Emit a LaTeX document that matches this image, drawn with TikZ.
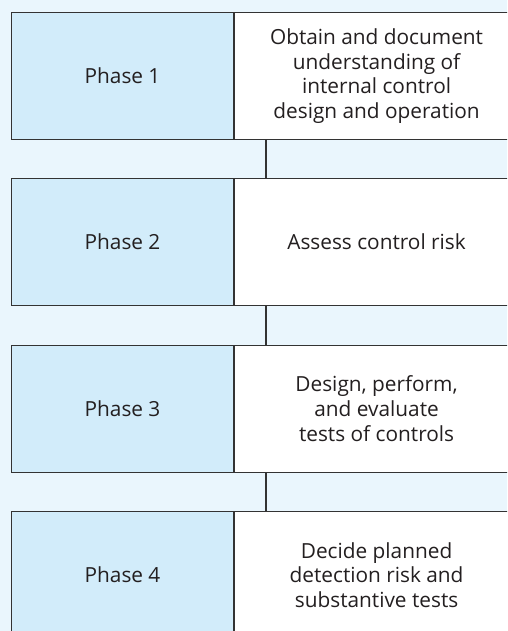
\documentclass[tikz,border=0pt]{standalone}
\usepackage{fontspec}
\setmainfont{Open Sans}
\definecolor{bgblue}{RGB}{234,246,253}
\definecolor{phaseblue}{RGB}{210,236,250}
\definecolor{linegray}{RGB}{51,51,51}
\definecolor{textgray}{RGB}{35,31,32}
\tikzset{
  phase/.style={draw=linegray, line width=0.7pt, fill=phaseblue, text=textgray,
    minimum width=5.55cm, minimum height=3.175cm, inner sep=0pt, anchor=north west},
  task/.style={draw=linegray, line width=0.7pt, fill=white, text=textgray, align=center,
    minimum width=7.1cm, minimum height=3.175cm, inner sep=0pt, anchor=west},
  link/.style={draw=linegray, line width=1.5pt}
}
\begin{document}
\begin{tikzpicture}[x=0.025cm,y=-0.025cm,font=\fontsize{14.8}{17.6}\selectfont]
\useasboundingbox (0,0) rectangle (507,631);
\clip (0,0) rectangle (507,631);
\fill[bgblue] (0,0) rectangle (507,631);
\node[phase] (p1) at (11,12) {Phase 1};
\node[task] (t1) at (p1.east) {Obtain and document\\understanding of\\internal control\\design and operation};
\node[phase] (p2) at (11,178) {Phase 2};
\node[task] (t2) at (p2.east) {Assess control risk};
\node[phase] (p3) at (11,344.5) {Phase 3};
\node[task] (t3) at (p3.east) {Design, perform,\\and evaluate\\tests of controls};
\node[phase] (p4) at (11,511) {Phase 4};
\node[task] (t4) at (p4.east) {Decide planned\\detection risk and\\substantive tests};
\draw[link] ([xshift=0.8cm]t1.south west) -- ([xshift=0.8cm]t2.north west);
\draw[link] ([xshift=0.8cm]t2.south west) -- ([xshift=0.8cm]t3.north west);
\draw[link] ([xshift=0.8cm]t3.south west) -- ([xshift=0.8cm]t4.north west);
\end{tikzpicture}
\end{document}
